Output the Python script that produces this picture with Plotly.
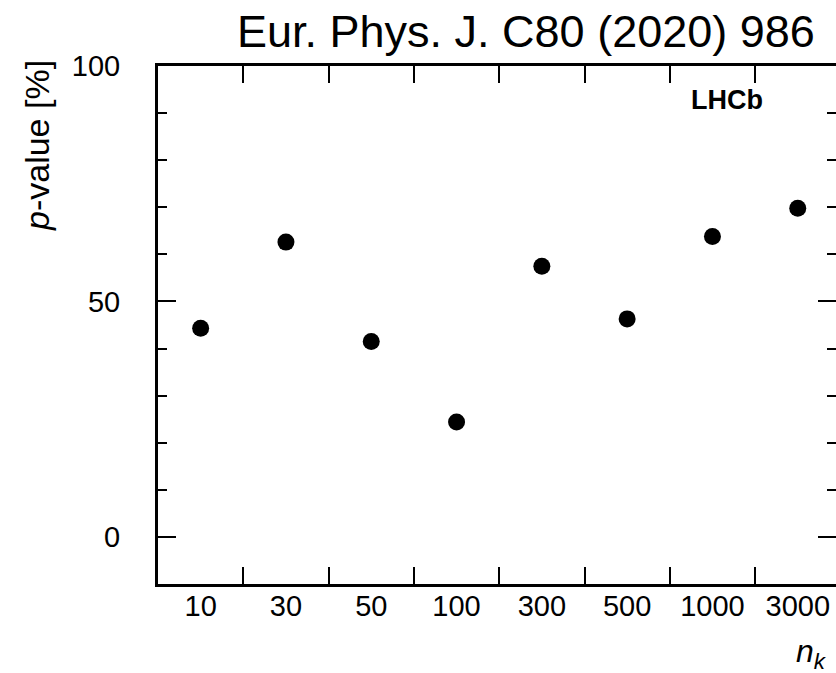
import plotly.graph_objects as go

# n_k settings (categorical x) and the fitted p-values in percent
n_k_labels = ["10", "30", "50", "100", "300", "500", "1000", "3000"]
p_values = [44.3, 62.6, 41.5, 24.4, 57.5, 46.3, 63.8, 69.8]

FONT = "Liberation Sans, Arial, Helvetica, sans-serif"

W, H = 836, 673
ML, MR, MT, MB = 158, 0, 66, 89
PW, PH = W - ML - MR, H - MT - MB


def px_to_paper(px, py):
    return (px - ML) / PW, (H - MB - py) / PH


fig = go.Figure()
fig.add_trace(go.Scatter(
    x=n_k_labels, y=p_values, mode="markers",
    marker=dict(size=17, color="black", line=dict(width=0)),
    showlegend=False, hoverinfo="x+y",
))
# empty trace so the right-hand tick axis gets drawn
fig.add_trace(go.Scatter(x=[], y=[], yaxis="y2", showlegend=False, hoverinfo="skip"))

tick_font = dict(family=FONT, size=29, color="black")
minor_ticks = dict(dtick=10, ticks="inside", ticklen=9, tickwidth=2,
                   tickcolor="black", showgrid=False)

fig.update_layout(
    width=W, height=H,
    margin=dict(l=ML, r=MR, t=MT, b=MB, pad=0),
    paper_bgcolor="white", plot_bgcolor="white",
    showlegend=False,
    xaxis=dict(
        type="category", categoryorder="array", categoryarray=n_k_labels,
        range=[-0.5, -0.5 + PW / 85.3],
        tickson="boundaries", ticks="inside", ticklen=17, tickwidth=2,
        tickcolor="black", mirror="ticks", showline=True, linewidth=3,
        linecolor="black", showgrid=False, zeroline=False,
        tickfont=tick_font, ticklabelstandoff=-6,
    ),
    yaxis=dict(
        range=[-10, 100], tick0=0, dtick=50,
        ticks="inside", ticklen=18, tickwidth=2, tickcolor="black",
        minor=minor_ticks,
        showline=True, linewidth=3, linecolor="black",
        showgrid=False, zeroline=False,
        tickfont=tick_font, ticklabelstandoff=29,
    ),
    # right-hand ticks without a frame line
    yaxis2=dict(
        overlaying="y", side="right", anchor="x",
        range=[-10, 100], tick0=0, dtick=50,
        ticks="inside", ticklen=18, tickwidth=2, tickcolor="black",
        minor=minor_ticks,
        showline=False, showgrid=False, zeroline=False,
        showticklabels=False,
    ),
)

ann = []
tx, ty = px_to_paper(817, 31)
ann.append(dict(text="Eur. Phys. J. C80 (2020) 986", x=tx, y=ty,
                xref="paper", yref="paper", xanchor="right", yanchor="middle",
                showarrow=False, font=dict(family=FONT, size=45, color="black")))
lx, ly = px_to_paper(727, 100)
ann.append(dict(text="<b>LHCb</b>", x=lx, y=ly, xref="paper", yref="paper",
                xanchor="center", yanchor="middle", showarrow=False,
                font=dict(family=FONT, size=27, color="black")))
yx, yy = px_to_paper(37, 146)
ann.append(dict(text="<i>p</i>-value [%]", x=yx, y=yy, xref="paper", yref="paper",
                xanchor="center", yanchor="middle", textangle=-90, showarrow=False,
                font=dict(family=FONT, size=34, color="black")))
nx, ny = px_to_paper(829, 653)
ann.append(dict(text="<i>n</i><sub><i>k</i></sub>", x=nx, y=ny, xref="paper", yref="paper",
                xanchor="right", yanchor="middle", showarrow=False,
                font=dict(family=FONT, size=32, color="black")))
fig.update_layout(annotations=ann)

fig.write_html("out.html")
